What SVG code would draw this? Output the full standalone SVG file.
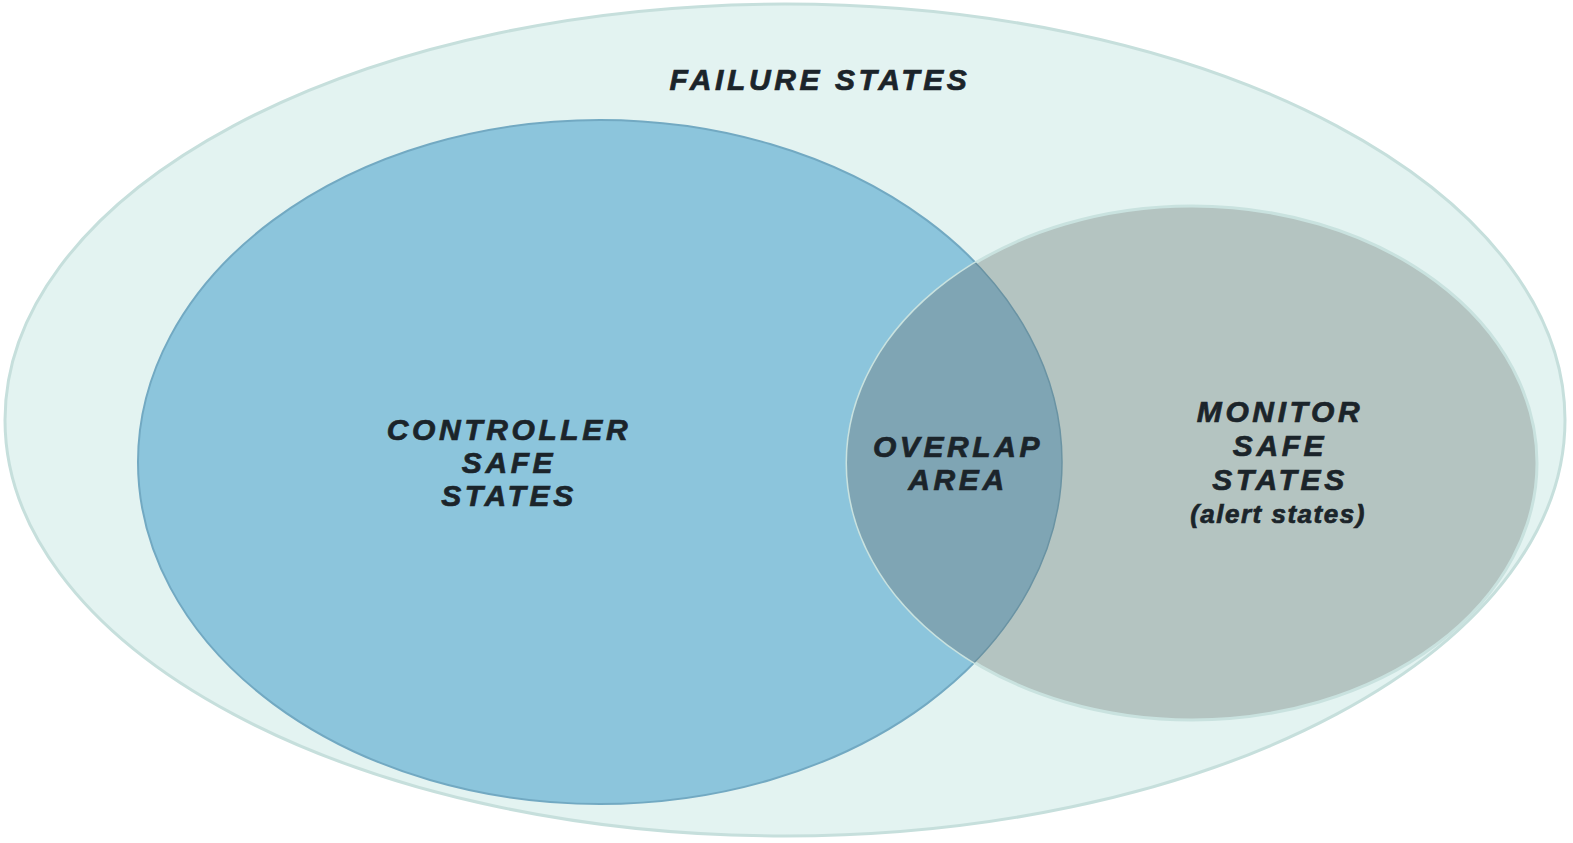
<svg xmlns="http://www.w3.org/2000/svg" width="1573" height="843" viewBox="0 0 1573 843">
<style>
.t{font-family:"Liberation Sans",Arial,sans-serif;font-weight:bold;font-style:italic;font-size:30px;fill:#1b242a;stroke:#1b242a;stroke-width:0.7px;text-anchor:middle;letter-spacing:3.6px}
.s{font-size:26px;letter-spacing:1.5px}
</style>
<defs>
<clipPath id="ctl"><ellipse cx="600" cy="462" rx="462" ry="342"/></clipPath>
<clipPath id="mon"><ellipse cx="1192" cy="463" rx="345" ry="257"/></clipPath>
</defs>
<rect width="1573" height="843" fill="#ffffff"/>
<g id="failure">
<ellipse cx="785" cy="420" rx="780" ry="416" fill="#e3f3f1" stroke="#c6dfdc" stroke-width="3"/>
<text class="t" x="820" y="90">FAILURE STATES</text>
</g>
<g id="controller">
<ellipse cx="600" cy="462" rx="462" ry="342" fill="#8cc5dc" stroke="#72a9c2" stroke-width="2"/>
<text class="t" x="509" y="440">CONTROLLER</text>
<text class="t" x="509" y="473">SAFE</text>
<text class="t" x="509" y="506">STATES</text>
</g>
<g id="monitor">
<ellipse cx="1192" cy="463" rx="345" ry="257" fill="#b4c4c1" stroke="#c9e2df" stroke-width="3"/>
<text class="t" x="1280" y="422">MONITOR</text>
<text class="t" x="1280" y="456">SAFE</text>
<text class="t" x="1280" y="490">STATES</text>
<text class="t s" x="1278" y="523">(alert states)</text>
</g>
<g id="overlap">
<ellipse cx="1192" cy="463" rx="345" ry="257" fill="#7fa5b4" clip-path="url(#ctl)"/>
<ellipse cx="600" cy="462" rx="462" ry="342" fill="none" stroke="#6a93a3" stroke-width="1.5" clip-path="url(#mon)"/>
<text class="t" x="958" y="457">OVERLAP</text>
<text class="t" x="958" y="490">AREA</text>
</g>
<g id="connectors"/>
</svg>
